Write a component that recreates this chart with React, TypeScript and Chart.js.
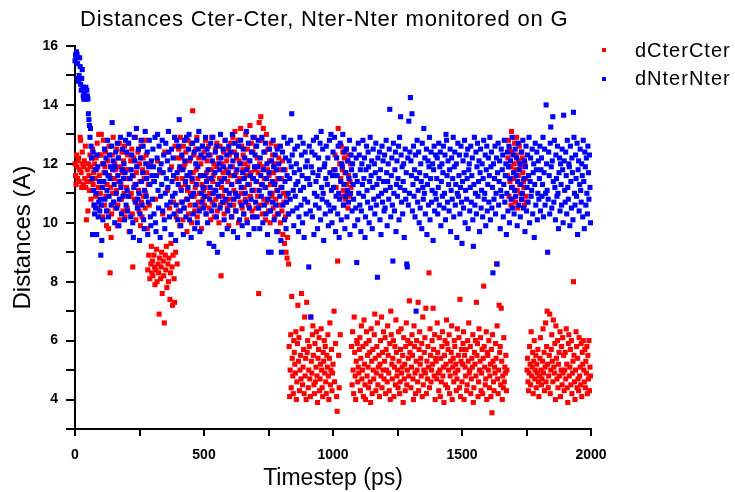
import React, { useEffect, useRef } from "react";
import { Chart, registerables } from "chart.js";

Chart.register(...registerables);

const TITLE = "Distances Cter-Cter, Nter-Nter monitored on G";
const X_LABEL = "Timestep (ps)";
const Y_LABEL = "Distances (A)";
const SERIES_NAMES = ["dCterCter", "dNterNter"];
const SERIES_COLORS = ["#ff0000", "#0000ff"];
const TIME_STEP_PS = 2;
const X_MIN = 0;
const X_MAX = 2000;
const X_MAJOR = 500;
const X_MINOR = 250;
const Y_MIN = 3;
const Y_MAX = 16;
const Y_MAJOR = 2;
const Y_MINOR = 1;
const FONT = '"Liberation Sans", Arial, Helvetica, sans-serif';

// dCterCter, one value every TIME_STEP_PS from t = 0
const dCterCter: number[] = [
  12.0, 11.6, 11.3, 12.3, 11.9, 11.5, 12.1, 12.2, 11.4, 11.8,
  12.9, 12.8, 11.7, 11.2, 12.4, 12.0, 11.3, 11.9, 12.1, 11.5,
  12.6, 11.2, 10.1, 11.4, 11.8, 10.4, 12.0, 11.6, 11.1, 12.3,
  11.9, 10.8, 11.4, 12.2, 12.5, 11.3, 11.7, 10.6, 12.0, 11.5,
  10.9, 12.2, 11.8, 12.7, 10.5, 11.2, 13.0, 11.6, 12.3, 11.0,
  12.3, 13.0, 11.4, 12.0, 10.2, 12.8, 11.7, 10.6, 11.9, 12.4,
  10.9, 9.9, 11.3, 12.1, 10.4, 9.8, 12.6, 11.6, 8.3, 11.2,
  9.5, 10.3, 12.3, 11.0, 12.9, 10.7, 11.5, 12.0, 10.5, 11.8,
  11.1, 12.5, 9.9, 10.6, 12.2, 11.4, 12.7, 10.1, 11.9, 11.3,
  10.8, 12.4, 11.7, 10.4, 12.1, 11.0, 12.6, 10.2, 11.5, 11.8,
  11.2, 10.5, 12.3, 12.7, 11.8, 9.7, 10.9, 11.5, 12.1, 11.0,
  12.5, 10.3, 8.5, 11.6, 12.2, 10.8, 11.3, 12.9, 10.1, 11.7,
  11.9, 10.6, 12.4, 11.1, 10.4, 12.0, 11.4, 9.9, 12.6, 10.7,
  10.2, 11.8, 12.2, 10.9, 11.5, 12.8, 10.5, 11.0, 12.3, 11.7,
  9.8, 8.4, 11.3, 8.9, 10.6, 8.1, 12.0, 8.6, 9.2, 8.3,
  8.7, 8.2, 11.4, 8.9, 8.5, 7.9, 10.8, 8.4, 9.1, 8.0,
  12.1, 8.6, 8.3, 6.9, 8.8, 11.7, 8.1, 8.5, 9.0, 7.6,
  10.3, 8.7, 8.2, 6.6, 12.4, 8.9, 8.4, 9.2, 7.8, 11.1,
  8.6, 8.0, 8.8, 10.5, 7.4, 8.3, 9.3, 11.9, 8.5, 7.2,
  8.9, 10.7, 8.1, 7.3, 12.6, 9.0, 10.2, 11.5, 8.6, 12.2,
  10.4, 12.5, 11.8, 9.9, 12.9, 11.2, 10.7, 12.2, 11.5, 10.1,
  12.6, 11.9, 10.5, 12.0, 11.3, 12.4, 10.8, 9.7, 11.1, 12.8,
  10.3, 11.6, 12.1, 10.6, 11.0, 12.7, 10.0, 11.4, 13.8, 11.7,
  12.3, 10.9, 10.4, 11.2, 12.5, 11.8, 12.9, 10.2, 11.5, 10.7,
  12.2, 11.0, 10.5, 11.6, 12.0, 9.8, 11.3, 12.6, 10.8, 11.1,
  12.4, 10.6, 11.2, 12.8, 10.3, 11.7, 12.1, 10.9, 11.5, 12.6,
  10.5, 11.0, 12.3, 10.1, 11.8, 12.9, 10.7, 11.4, 11.6, 12.0,
  10.2, 11.1, 12.5, 10.8, 11.9, 12.7, 10.4, 11.3, 12.2, 10.0,
  11.5, 12.6, 10.6, 8.2, 11.2, 12.0, 10.9, 11.7, 12.4, 10.3,
  11.1, 12.8, 10.7, 11.8, 12.1, 10.5, 11.4, 12.5, 9.9, 12.3,
  10.8, 11.6, 12.7, 11.3, 10.2, 11.9, 12.9, 10.6, 11.1, 12.4,
  13.1, 10.4, 11.7, 12.2, 10.9, 11.4, 12.8, 10.0, 12.1, 11.5,
  10.7, 13.2, 11.0, 12.6, 10.5, 11.8, 12.3, 10.3, 11.2, 12.0,
  10.8, 13.0, 11.6, 10.1, 12.5, 11.9, 10.6, 12.1, 11.3, 13.3,
  10.9, 11.7, 12.7, 10.4, 11.5, 12.4, 10.2, 11.1, 12.9, 11.8,
  12.6, 10.5, 11.4, 12.2, 10.9, 11.7, 7.6, 13.4, 12.0, 10.6,
  13.6, 11.3, 12.8, 10.3, 11.9, 13.2, 10.8, 11.5, 12.4, 10.1,
  11.2, 13.0, 10.7, 11.8, 12.5, 10.4, 11.6, 12.1, 10.0, 11.3,
  12.7, 10.9, 11.0, 12.3, 10.5, 11.7, 12.0, 10.2, 11.4, 10.8,
  12.6, 11.1, 10.3, 11.5, 9.7, 12.2, 10.6, 11.8, 10.0, 11.2,
  11.5, 10.4, 12.1, 9.6, 11.0, 10.7, 9.3, 11.8, 10.2, 9.0,
  10.9, 8.8, 9.5, 10.3, 8.6, 5.8, 4.1, 5.0, 6.2, 4.4,
  7.5, 5.4, 4.8, 4.2, 6.0, 5.6, 5.2, 4.9, 6.3, 4.0,
  4.6, 5.9, 7.2, 5.3, 6.1, 4.3, 5.0, 5.5, 4.7, 7.6,
  6.4, 4.5, 5.1, 5.7, 4.2, 6.8, 4.8, 5.4, 4.0, 7.3,
  5.6, 6.0, 4.4, 5.0, 5.8, 4.7, 4.1, 6.8, 5.3, 4.9,
  6.2, 6.5, 5.5, 4.5, 4.2, 5.9, 4.6, 5.1, 6.3, 4.8,
  3.9, 5.4, 5.7, 6.1, 4.3, 4.7, 5.2, 6.4, 5.0, 4.4,
  4.1, 5.6, 5.3, 6.0, 4.9, 5.8, 4.6, 4.2, 5.5, 5.1,
  6.2, 4.8, 4.0, 5.4, 6.6, 4.5, 5.0, 5.7, 4.3, 4.9,
  5.2, 11.8, 7.0, 4.6, 12.3, 5.9, 11.2, 4.1, 3.6, 8.7,
  13.2, 5.5, 4.4, 12.0, 6.2, 11.5, 12.6, 10.9, 11.8, 12.4,
  11.1, 10.6, 12.2, 11.7, 10.8, 12.5, 11.3, 11.0, 12.1, 10.5,
  11.6, 12.3, 10.9, 11.4, 12.0, 11.2, 5.8, 4.5, 6.3, 5.0,
  4.2, 6.8, 5.6, 4.8, 4.0, 5.3, 6.0, 5.9, 4.6, 5.1,
  4.9, 5.7, 6.1, 4.3, 5.4, 6.5, 4.7, 5.0, 5.8, 4.1,
  6.7, 5.2, 4.5, 4.0, 5.9, 6.3, 4.8, 5.5, 5.1, 4.4,
  6.0, 5.6, 4.6, 3.9, 6.4, 5.3, 4.2, 5.7, 5.0, 4.7,
  6.2, 6.9, 5.4, 4.3, 4.9, 5.8, 6.6, 4.5, 5.1, 5.5,
  4.1, 5.2, 6.0, 4.8, 6.8, 4.4, 5.6, 5.0, 6.3, 4.7,
  5.3, 6.1, 4.2, 5.7, 5.0, 4.6, 6.5, 5.5, 4.9, 4.3,
  5.9, 4.0, 7.0, 6.2, 5.2, 4.7, 5.4, 6.0, 4.1, 5.1,
  5.8, 4.5, 6.7, 5.6, 4.8, 5.0, 4.4, 6.3, 5.3, 4.2,
  4.6, 5.7, 6.4, 4.9, 5.1, 5.5, 3.9, 6.1, 4.7, 5.2,
  4.3, 5.8, 6.6, 4.5, 5.0, 6.0, 5.4, 4.8, 7.35, 5.6,
  5.9, 4.4, 5.1, 6.2, 5.5, 4.7, 4.0, 6.5, 5.8, 4.9,
  4.2, 5.3, 6.0, 5.0, 4.6, 7.3, 4.3, 5.7, 6.3, 5.2,
  5.4, 4.8, 5.9, 4.1, 6.8, 4.5, 5.0, 5.6, 6.1, 4.9,
  7.1, 4.2, 5.3, 4.7, 5.8, 5.1, 8.3, 4.4, 6.4, 5.5,
  4.6, 5.0, 6.0, 5.2, 7.1, 5.7, 4.8, 6.2, 4.0, 5.4,
  5.3, 4.7, 6.6, 5.6, 4.9, 4.3, 6.1, 5.0, 4.1, 5.4,
  4.6, 5.8, 6.3, 4.8, 5.1, 3.9, 5.5, 6.0, 4.5, 5.2,
  6.7, 5.9, 4.4, 5.7, 5.0, 6.2, 4.2, 4.8, 5.3, 5.6,
  6.5, 4.0, 5.1, 5.4, 4.6, 6.0, 5.8, 4.9, 5.2, 4.3,
  4.7, 6.4, 5.0, 5.5, 6.1, 4.4, 7.4, 4.1, 5.3, 5.7,
  4.6, 5.2, 5.9, 6.3, 4.0, 5.5, 5.1, 4.8, 5.7, 4.3,
  4.5, 6.0, 5.3, 6.6, 4.9, 5.0, 5.8, 4.2, 4.7, 5.4,
  5.1, 6.2, 3.9, 4.4, 5.6, 5.2, 6.0, 4.8, 7.3, 5.5,
  5.9, 4.1, 4.6, 6.4, 5.0, 5.3, 6.1, 4.3, 4.9, 5.7,
  4.2, 5.4, 7.85, 5.8, 5.1, 4.5, 4.7, 6.3, 4.0, 5.6,
  5.5, 5.0, 6.0, 4.4, 4.8, 5.2, 4.1, 5.7, 3.55, 6.2,
  5.3, 4.6, 4.3, 5.1, 4.9, 5.9, 5.4, 8.6, 6.5, 4.7,
  4.2, 5.0, 7.2, 5.6, 5.8, 4.5, 7.1, 5.3, 4.0, 4.8,
  4.4, 6.1, 4.6, 5.1, 4.9, 5.5, 4.3, 5.0, 11.6, 12.2,
  12.8, 10.9, 12.5, 11.4, 11.9, 10.6, 13.1, 12.4, 11.2, 10.8,
  11.5, 12.0, 12.7, 11.8, 10.7, 12.3, 12.9, 11.1, 10.5, 11.6,
  12.1, 12.6, 11.3, 11.9, 11.0, 10.8, 12.4, 12.2, 11.7, 11.4,
  11.2, 10.6, 12.0, 11.5, 10.9, 10.7, 5.0, 5.4, 4.6, 4.3,
  4.9, 5.8, 5.2, 4.5, 6.3, 4.8, 5.1, 5.6, 4.2, 5.3,
  6.0, 4.7, 5.0, 5.5, 4.4, 5.2, 4.9, 5.7, 4.6, 4.1,
  4.8, 5.4, 6.1, 5.0, 4.5, 4.7, 5.3, 6.4, 4.9, 5.6,
  4.3, 5.1, 6.6, 4.6, 5.8, 7.0, 5.2, 4.4, 4.8, 5.5,
  6.9, 4.2, 5.0, 5.7, 6.2, 5.3, 4.6, 6.7, 5.1, 4.9,
  5.9, 4.0, 6.5, 5.4, 4.7, 6.0, 4.4, 5.2, 5.6, 4.8,
  6.3, 4.1, 5.0, 5.8, 4.5, 6.1, 4.9, 5.5, 4.3, 5.0,
  5.6, 4.7, 6.4, 5.2, 4.4, 3.9, 5.9, 6.2, 4.8, 5.1,
  5.7, 4.5, 6.0, 4.2, 4.9, 5.3, 8.0, 5.5, 4.6, 4.0,
  5.0, 6.3, 5.8, 4.4, 5.4, 4.7, 4.3, 6.1, 4.8, 5.1,
  4.5, 5.9, 4.1, 5.6, 5.2, 6.0, 5.0, 4.6, 5.7, 4.4,
  5.3, 4.9, 5.8, 4.2, 5.5, 4.7, 6.0, 4.3, 5.1, 4.8,
];

// dNterNter, one value every TIME_STEP_PS from t = 0
const dNterNter: number[] = [
  15.5, 15.7, 15.6, 15.8, 15.7, 15.4, 14.9, 14.8, 15.0, 15.6,
  15.3, 14.7, 14.5, 14.9, 15.2, 14.6, 14.3, 14.2, 14.4, 14.2,
  14.3, 14.6, 14.2, 14.5, 14.3, 14.2, 13.7, 13.5, 13.3, 12.9,
  13.2, 12.6, 12.2, 11.5, 9.6, 12.4, 11.1, 10.6, 10.3, 11.8,
  10.5, 11.0, 9.6, 12.3, 11.9, 10.2, 10.7, 11.4, 10.4, 10.8,
  8.9, 10.6, 9.4, 11.2, 10.1, 12.0, 11.4, 12.5, 10.8, 11.7,
  12.2, 10.4, 11.1, 12.8, 11.6, 10.2, 10.9, 12.3, 11.5, 11.9,
  10.6, 12.6, 13.4, 11.8, 12.1, 10.7, 11.3, 10.0, 11.9, 12.4,
  11.0, 10.5, 12.7, 11.6, 12.2, 9.9, 10.8, 11.4, 12.9, 11.2,
  10.3, 11.8, 12.5, 10.9, 11.5, 12.0, 10.1, 11.7, 12.8, 10.6,
  12.4, 11.1, 10.4, 10.9, 12.7, 13.0, 11.5, 9.7, 10.2, 11.8,
  12.3, 11.6, 10.0, 9.5, 11.2, 12.9, 12.1, 10.7, 11.3, 13.2,
  11.9, 10.5, 10.8, 12.5, 11.0, 9.4, 10.3, 12.2, 12.8, 11.4,
  10.6, 11.7, 12.6, 10.1, 9.8, 11.1, 13.1, 12.0, 10.9, 11.5,
  12.4, 9.6, 10.7, 11.9, 12.8, 11.3, 10.2, 9.9, 12.1, 11.6,
  10.8, 12.5, 11.9, 10.3, 11.4, 12.9, 10.0, 9.7, 11.6, 12.2,
  13.0, 11.1, 10.5, 12.6, 11.8, 9.5, 10.9, 12.0, 11.3, 12.8,
  10.4, 11.7, 12.3, 10.1, 9.8, 11.0, 12.7, 11.5, 10.6, 12.1,
  11.2, 13.1, 12.4, 10.2, 11.8, 10.7, 9.6, 12.5, 11.4, 10.9,
  12.2, 11.6, 10.3, 12.9, 11.0, 9.4, 10.6, 12.8, 11.7, 10.1,
  11.3, 12.6, 13.5, 11.9, 10.4, 9.9, 11.1, 12.3, 10.7, 11.8,
  9.6, 10.5, 12.8, 12.1, 11.4, 10.2, 12.9, 11.6, 10.8, 11.2,
  12.5, 13.0, 10.1, 11.7, 12.2, 9.5, 10.9, 11.5, 12.7, 10.3,
  11.0, 12.4, 9.8, 10.6, 12.0, 11.3, 12.8, 10.0, 11.9, 12.5,
  13.1, 10.4, 9.7, 11.6, 12.3, 11.0, 10.7, 12.6, 11.2, 10.5,
  12.2, 10.9, 11.6, 12.9, 10.3, 11.4, 12.5, 10.0, 11.8, 12.3,
  9.3, 10.8, 11.2, 12.7, 11.5, 10.4, 12.1, 12.9, 11.0, 9.2,
  10.6, 11.7, 12.4, 11.1, 10.2, 12.6, 9.0, 11.3, 10.9, 12.0,
  11.8, 10.5, 13.0, 12.2, 11.4, 9.6, 10.7, 12.5, 11.9, 10.1,
  11.5, 12.8, 10.8, 11.1, 12.3, 9.8, 10.4, 11.7, 12.6, 11.0,
  10.6, 11.9, 12.4, 10.2, 11.3, 13.0, 12.1, 9.7, 10.8, 11.6,
  12.7, 11.0, 10.4, 12.3, 11.8, 9.5, 10.9, 12.6, 11.4, 10.1,
  12.0, 12.8, 11.2, 10.6, 9.9, 11.7, 12.5, 10.3, 11.5, 12.2,
  11.0, 10.7, 13.1, 11.8, 10.0, 11.3, 12.7, 9.6, 10.5, 12.1,
  11.6, 10.8, 12.4, 11.1, 10.2, 12.9, 11.5, 9.8, 11.9, 12.3,
  10.7, 11.4, 12.6, 10.2, 11.9, 12.8, 10.5, 11.1, 9.8, 12.2,
  11.6, 10.9, 12.9, 11.3, 10.0, 11.8, 12.4, 10.6, 11.2, 12.7,
  10.3, 11.5, 12.0, 9.6, 10.8, 9.0, 11.7, 12.5, 11.0, 10.4,
  9.0, 12.1, 11.4, 10.7, 12.8, 11.9, 10.1, 11.3, 12.3, 10.6,
  11.8, 9.7, 12.5, 11.1, 10.3, 12.0, 11.5, 10.9, 12.6, 9.4,
  9.0, 11.2, 12.4, 10.6, 11.8, 12.9, 10.1, 11.4, 12.2, 9.8,
  10.7, 11.6, 12.7, 11.0, 10.3, 12.1, 11.5, 10.8, 12.8, 11.9,
  13.7, 12.3, 10.4, 11.1, 9.9, 11.7, 12.5, 10.9, 11.3, 12.0,
  10.5, 12.6, 11.4, 9.7, 10.2, 11.8, 12.9, 11.1, 10.6, 12.3,
  11.6, 10.0, 12.7, 11.2, 9.5, 10.8, 12.4, 11.9, 10.3, 11.5,
  12.1, 10.7, 11.5, 8.5, 12.6, 11.3, 10.4, 6.8, 11.9, 12.4,
  10.2, 11.7, 12.8, 9.6, 11.0, 12.3, 10.6, 11.4, 12.9, 10.9,
  9.8, 11.6, 12.2, 10.5, 11.8, 12.7, 10.1, 13.1, 11.2, 10.8,
  12.5, 11.0, 9.4, 11.9, 12.0, 10.3, 11.5, 12.6, 10.7, 11.3,
  12.2, 9.9, 10.6, 12.8, 11.7, 10.4, 13.0, 11.1, 10.0, 11.6,
  12.4, 11.2, 10.5, 12.9, 11.8, 9.7, 10.9, 12.2, 11.6, 10.3,
  12.6, 11.0, 9.5, 10.8, 12.7, 11.4, 10.1, 12.0, 11.9, 13.0,
  10.6, 11.3, 12.4, 9.8, 10.9, 11.7, 12.5, 10.2, 11.1, 12.1,
  10.7, 11.5, 12.8, 9.6, 11.0, 12.3, 11.8, 10.4, 12.0, 11.3,
  10.8, 12.5, 9.9, 11.6, 10.5, 12.2, 8.65, 11.4, 10.1, 12.7,
  11.0, 12.3, 10.6, 11.8, 9.7, 10.4, 12.0, 11.3, 12.8, 10.9,
  11.5, 12.2, 9.5, 10.2, 11.8, 12.6, 11.1, 10.7, 12.4, 11.9,
  10.0, 11.4, 12.9, 10.5, 11.6, 12.1, 9.8, 11.2, 12.5, 10.8,
  12.0, 10.3, 11.7, 12.7, 10.6, 11.3, 8.15, 12.2, 10.9, 11.5,
  12.4, 10.1, 11.8, 9.6, 11.0, 12.6, 10.7, 12.1, 11.4, 10.4,
  12.3, 10.5, 11.1, 12.8, 11.7, 9.9, 11.4, 12.0, 10.8, 12.5,
  13.85, 11.2, 10.2, 11.6, 12.2, 10.6, 8.7, 12.7, 11.0, 10.4,
  11.8, 12.4, 9.7, 11.3, 12.1, 10.9, 11.5, 12.6, 10.1, 12.9,
  11.2, 13.6, 12.3, 10.7, 11.9, 10.3, 11.4, 12.0, 9.5, 11.1,
  12.5, 10.8, 11.7, 8.6, 8.5, 12.2, 10.6, 13.45, 11.0, 12.4,
  14.25, 12.1, 11.6, 13.7, 10.4, 11.3, 12.6, 10.9, 11.8, 10.2,
  12.3, 7.0, 11.5, 12.8, 10.7, 11.1, 12.4, 10.0, 11.7, 10.5,
  12.0, 11.4, 9.8, 12.7, 11.2, 10.8, 13.2, 11.0, 12.2, 10.3,
  11.6, 12.5, 9.6, 11.3, 12.1, 10.6, 11.9, 12.9, 10.1, 11.5,
  12.4, 10.7, 11.1, 12.0, 9.4, 11.8, 12.6, 10.4, 11.0, 12.3,
  10.8, 11.5, 12.2, 10.3, 11.2, 12.7, 10.6, 11.9, 12.4, 9.9,
  11.4, 12.0, 10.9, 11.7, 12.6, 10.5, 11.0, 12.3, 10.1, 13.0,
  12.8, 11.6, 10.7, 12.1, 11.3, 10.4, 11.8, 12.5, 9.7, 11.1,
  12.2, 10.8, 11.5, 12.9, 10.2, 11.9, 12.4, 10.6, 11.3, 12.0,
  9.5, 11.0, 12.7, 10.9, 11.6, 12.3, 10.3, 11.2, 12.6, 10.7,
  9.3, 11.4, 12.1, 10.5, 11.7, 12.8, 10.0, 11.1, 12.3, 10.8,
  11.5, 12.5, 9.8, 11.8, 12.0, 10.4, 11.2, 12.6, 10.7, 11.6,
  12.2, 10.1, 9.2, 11.3, 12.9, 10.6, 11.0, 12.4, 10.3, 11.9,
  12.7, 10.9, 11.4, 12.1, 9.7, 11.7, 12.5, 10.5, 11.1, 12.0,
  10.2, 11.5, 12.8, 10.8, 11.0, 12.3, 9.9, 11.8, 12.6, 10.4,
  11.3, 12.2, 10.7, 11.6, 12.9, 10.1, 11.9, 12.4, 10.5, 11.2,
  8.3, 12.0, 10.8, 11.5, 12.6, 10.3, 11.0, 12.2, 8.6, 11.7,
  12.7, 10.6, 11.4, 12.1, 9.8, 11.1, 12.5, 10.9, 11.8, 12.3,
  10.2, 11.3, 12.8, 10.7, 11.6, 12.0, 9.6, 11.0, 12.4, 10.4,
  11.9, 12.6, 10.0, 11.5, 12.1, 10.8, 11.2, 12.9, 10.5, 12.3,
  11.7, 10.3, 11.1, 12.5, 10.9, 11.6, 12.2, 9.9, 11.4, 12.7,
  10.6, 11.8, 12.0, 10.2, 11.3, 12.4, 10.8, 11.0, 12.8, 10.5,
  11.5, 12.1, 9.7, 11.9, 12.6, 10.4, 11.2, 12.3, 10.7, 11.6,
  12.9, 10.0, 11.4, 12.2, 10.9, 11.1, 12.5, 10.3, 11.7, 12.0,
  9.5, 11.3, 12.7, 10.6, 11.8, 12.4, 10.1, 11.0, 12.1, 10.8,
  11.5, 12.6, 10.4, 11.8, 12.2, 10.9, 11.3, 12.9, 10.2, 11.7,
  12.5, 10.6, 11.0, 14.0, 12.0, 11.1, 9.0, 10.8, 12.4, 11.6,
  10.3, 12.7, 13.25, 11.9, 10.5, 12.1, 13.6, 11.4, 10.7, 12.8,
  11.2, 10.1, 12.3, 11.5, 10.9, 12.6, 11.0, 9.8, 11.7, 12.2,
  10.4, 12.0, 11.3, 10.6, 12.5, 11.8, 10.0, 13.65, 12.1, 11.1,
  10.7, 12.4, 11.6, 10.3, 12.8, 11.2, 10.8, 12.0, 11.9, 9.9,
  12.6, 11.4, 10.5, 12.2, 11.7, 10.1, 13.75, 12.9, 11.0, 10.6,
  12.3, 11.5, 10.9, 12.7, 9.6, 11.8, 12.1, 10.4, 11.3, 12.5,
  11.1, 10.7, 12.0, 11.6, 10.2, 12.8, 11.4, 9.8, 12.4, 11.9,
  10.6, 12.2, 11.0, 10.3, 12.6, 11.7, 10.8, 12.3, 11.2, 10.0,
];

const SERIES_VALUES = [dCterCter, dNterNter];

export default function App() {
  const canvasRef = useRef<HTMLCanvasElement | null>(null);

  useEffect(() => {
    document.body.style.margin = "0";
    const canvas = canvasRef.current;
    if (!canvas) return;
    const toPoints = (ys: number[]) => ys.map((y, i) => ({ x: i * TIME_STEP_PS, y }));
    const tickFont = { family: FONT, size: 14, weight: "bold" as const };
    const chart = new Chart(canvas, {
      type: "scatter",
      data: {
        datasets: SERIES_VALUES.map((vals, k) => ({
          label: SERIES_NAMES[k],
          data: toPoints(vals),
          backgroundColor: SERIES_COLORS[k],
          borderColor: SERIES_COLORS[k],
          borderWidth: 0,
          pointBorderWidth: 0,
          pointStyle: "rect" as const,
          pointRadius: 3.6,
          pointHoverRadius: 3.6,
          order: k === 0 ? 2 : 1,
          clip: { left: 5, top: 5, right: 5, bottom: 5 },
        })),
      },
      options: {
        responsive: false,
        animation: false,
        events: [],
        layout: { padding: { top: 46, right: 144, bottom: 0, left: 0 } },
        plugins: {
          legend: { display: false },
          title: { display: false },
          tooltip: { enabled: false },
        },
        scales: {
          x: {
            type: "linear",
            position: "bottom",
            min: X_MIN,
            max: X_MAX,
            afterFit: (s: any) => {
              s.height = 63;
            },
            ticks: {
              stepSize: X_MINOR,
              autoSkip: false,
              maxRotation: 0,
              color: "#000",
              font: tickFont,
              padding: 11,
              callback: (v: any) => (Number(v) % X_MAJOR === 0 ? String(v) : ""),
            },
            grid: {
              drawOnChartArea: false,
              drawTicks: true,
              tickLength: 7,
              color: "#000",
              lineWidth: 2,
            },
            border: { display: true, color: "#000", width: 2 },
            title: {
              display: true,
              text: X_LABEL,
              color: "#000",
              font: { family: FONT, size: 23 },
              padding: { top: 0, bottom: 0 },
            },
          },
          y: {
            type: "linear",
            position: "left",
            min: Y_MIN,
            max: Y_MAX,
            afterFit: (s: any) => {
              s.width = 75;
            },
            ticks: {
              stepSize: Y_MINOR,
              autoSkip: false,
              color: "#000",
              font: tickFont,
              padding: 8,
              callback: (v: any) => (Number(v) % Y_MAJOR === 0 ? String(v) : ""),
            },
            grid: {
              drawOnChartArea: false,
              drawTicks: true,
              tickLength: 9,
              color: "#000",
              lineWidth: 2,
            },
            border: { display: true, color: "#000", width: 2 },
            title: {
              display: true,
              text: Y_LABEL,
              color: "#000",
              font: { family: FONT, size: 24 },
              padding: { top: 9, bottom: 0 },
            },
          },
        },
      },
    });
    return () => chart.destroy();
  }, []);

  const legendTops = [40, 68.4];
  const markerTops = [48.3, 76.7];

  return (
    <div style={{ position: "relative", width: 735, height: 492, fontFamily: FONT, color: "#000", background: "#fff" }}>
      <canvas ref={canvasRef} width={735} height={492} style={{ position: "absolute", left: 0, top: 0 }} />
      <div
        style={{
          position: "absolute",
          left: 80,
          top: 8.4,
          fontSize: 22,
          lineHeight: "22px",
          letterSpacing: "0.8px",
          whiteSpace: "nowrap",
        }}
      >
        {TITLE}
      </div>
      {SERIES_NAMES.map((name, k) => (
        <React.Fragment key={name}>
          <div
            style={{
              position: "absolute",
              left: 601.7,
              top: markerTops[k],
              width: 4,
              height: 4,
              background: SERIES_COLORS[k],
            }}
          />
          <div
            style={{
              position: "absolute",
              left: 635,
              top: legendTops[k],
              fontSize: 20,
              lineHeight: "20px",
              letterSpacing: "1px",
              whiteSpace: "nowrap",
            }}
          >
            {name}
          </div>
        </React.Fragment>
      ))}
    </div>
  );
}
